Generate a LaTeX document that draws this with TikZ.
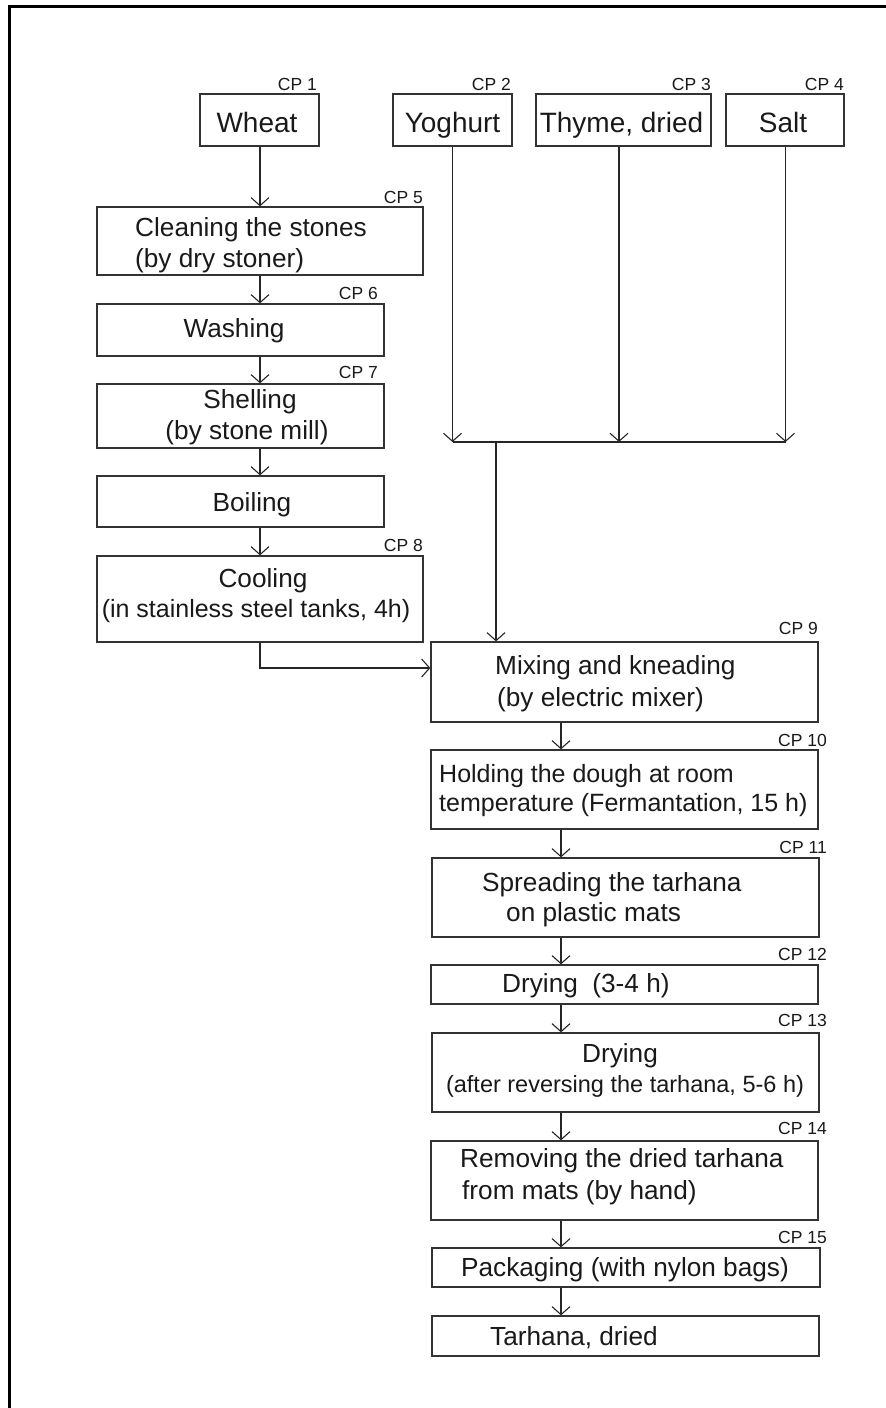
\documentclass[tikz,border=0pt]{standalone}
\usepackage{fontspec}
\setmainfont{Liberation Sans}
\usetikzlibrary{arrows.meta}
\tikzset{
  box/.style={draw=black!80, line width=1.3pt, inner sep=0pt, rectangle},
  txt/.style={inner sep=0pt, text=black!90, font=\fontsize{26.2}{31}\selectfont},
  midtxt/.style={inner sep=0pt, text=black!90, font=\fontsize{25}{30}\selectfont},
  toptxt/.style={inner sep=0pt, text=black!90, font=\fontsize{28}{33}\selectfont},
  smalltxt/.style={inner sep=0pt, text=black!90, font=\fontsize{23.5}{28}\selectfont},
  cp/.style={inner sep=0pt, anchor=east, text=black!90, font=\fontsize{17.5}{20}\selectfont},
  flow/.style={draw=black!85, line width=1.1pt},
  arr/.style={flow, -{Straight Barb[length=8pt,width=18pt,line width=1.1pt]}}
}
\newcommand{\procbox}[5]{%
  \node[box, minimum width={(#4-#2)*1pt}, minimum height={(#5-#3)*1pt}] (#1) at ({(#2+#4)/2},{(#3+#5)/2}) {};}
\begin{document}
\begin{tikzpicture}[x=1pt,y=-1pt]
\useasboundingbox (0,0) rectangle (886,1408);
% frame
\draw[line width=2.5pt, black] (9.5,1408) -- (9.5,6.5) -- (886,6.5);

% column guides
\coordinate (colL) at (260,0);
\coordinate (colR) at (561,0);

% top row
\procbox{wheat}{200}{94}{319}{146}
\procbox{yog}{393}{94}{512}{146}
\procbox{thyme}{536}{94}{711}{146}
\procbox{salt}{726}{94}{844}{146}
\node[toptxt, anchor=base] (twheat) at (257,132) {Wheat};
\node[toptxt, anchor=base] (tyog) at (452.5,132) {Yoghurt};
\node[toptxt, anchor=base] (tthyme) at (621.5,132) {Thyme, dried};
\node[toptxt, anchor=base] (tsalt) at (783,132) {Salt};
\node[cp] (cp1) at (317,84) {CP 1};
\node[cp] (cp2) at (511,84) {CP 2};
\node[cp] (cp3) at (711,84) {CP 3};
\node[cp] (cp4) at (844,84) {CP 4};

% left column
\procbox{clean}{97}{207}{423}{275}
\procbox{wash}{97}{304}{384}{356}
\procbox{shell}{97}{384}{384}{448}
\procbox{boil}{97}{476}{384}{527}
\procbox{cool}{97}{556}{423}{642}
\node[txt, anchor=base west] (tclean1) at (135,236) {Cleaning the stones};
\node[txt, anchor=base west] (tclean2) at (135,267) {(by dry stoner)};
\node[txt, anchor=base] (twash) at (234,337.4) {Washing};
\node[txt, anchor=base] (tshell1) at (250,408) {Shelling};
\node[txt, anchor=base] (tshell2) at (247,439) {(by stone mill)};
\node[txt, anchor=base] (tboil) at (252,511) {Boiling};
\node[txt, anchor=base] (tcool1) at (263,587) {Cooling};
\node[midtxt, anchor=base] (tcool2) at (256,617) {(in stainless steel tanks, 4h)};
\node[cp] (cp5) at (423,197) {CP 5};
\node[cp] (cp6) at (378,293) {CP 6};
\node[cp] (cp7) at (378,372) {CP 7};
\node[cp] (cp8) at (423,545) {CP 8};

% right column
\procbox{mix}{431}{642}{818}{722}
\procbox{hold}{431}{750}{818}{829}
\procbox{spread}{432}{858}{819}{937}
\procbox{dryA}{431}{965}{818}{1004}
\procbox{dryB}{432}{1033}{819}{1112}
\procbox{remove}{431}{1141}{818}{1220}
\procbox{pack}{432}{1248}{820}{1287}
\procbox{tarhana}{432}{1316}{819}{1356}
\node[txt, anchor=base west] (tmix1) at (495,674) {Mixing and kneading};
\node[txt, anchor=base west] (tmix2) at (497,706) {(by electric mixer)};
\node[midtxt, anchor=base west] (thold1) at (439,782) {Holding the dough at room};
\node[midtxt, anchor=base west] (thold2) at (439,811) {temperature (Fermantation, 15 h)};
\node[txt, anchor=base west] (tspread1) at (482,891) {Spreading the tarhana};
\node[txt, anchor=base west] (tspread2) at (506,921) {on plastic mats};
\node[txt, anchor=base west] (tdryA) at (502,992) {Drying\ \ (3-4 h)};
\node[txt, anchor=base] (tdryB1) at (620,1062.5) {Drying};
\node[smalltxt, anchor=base] (tdryB2) at (625,1092) {(after reversing the tarhana, 5-6 h)};
\node[txt, anchor=base west] (tremove1) at (460,1167) {Removing the dried tarhana};
\node[txt, anchor=base west] (tremove2) at (462,1199) {from mats (by hand)};
\node[txt, anchor=base] (tpack) at (625,1276) {Packaging (with nylon bags)};
\node[txt, anchor=base west] (ttarhana) at (490,1345.5) {Tarhana, dried};
\node[cp] (cp9) at (818,628) {CP 9};
\node[cp] (cp10) at (827,740) {CP 10};
\node[cp] (cp11) at (827,847) {CP 11};
\node[cp] (cp12) at (827,954) {CP 12};
\node[cp] (cp13) at (827,1020) {CP 13};
\node[cp] (cp14) at (827,1128) {CP 14};
\node[cp] (cp15) at (827,1237) {CP 15};

% connectors: left column
\draw[arr] (wheat.south -| colL) -- (clean.north -| colL);
\draw[arr] (clean.south -| colL) -- (wash.north -| colL);
\draw[arr] (wash.south -| colL) -- (shell.north -| colL);
\draw[arr] (shell.south -| colL) -- (boil.north -| colL);
\draw[arr] (boil.south -| colL) -- (cool.north -| colL);
\coordinate (bend) at (260,668);
\draw[arr] (cool.south -| colL) -- (bend) -- (bend -| mix.west);

% connectors: ingredients
\coordinate (jn) at (496,442);
\coordinate (yline) at (452.5,0);
\coordinate (tline) at (619,0);
\coordinate (sline) at (785.5,0);
\draw[arr] (yog.south -| yline) -- (jn -| yline);
\draw[arr] (thyme.south -| tline) -- (jn -| tline);
\draw[arr] (salt.south -| sline) -- (jn -| sline);
\draw[flow] (jn -| yline) -- (jn -| sline);
\draw[arr] (jn) -- (jn |- mix.north);

% connectors: right column
\draw[arr] (mix.south -| colR) -- (hold.north -| colR);
\draw[arr] (hold.south -| colR) -- (spread.north -| colR);
\draw[arr] (spread.south -| colR) -- (dryA.north -| colR);
\draw[arr] (dryA.south -| colR) -- (dryB.north -| colR);
\draw[arr] (dryB.south -| colR) -- (remove.north -| colR);
\draw[arr] (remove.south -| colR) -- (pack.north -| colR);
\draw[arr] (pack.south -| colR) -- (tarhana.north -| colR);
\end{tikzpicture}
\end{document}
